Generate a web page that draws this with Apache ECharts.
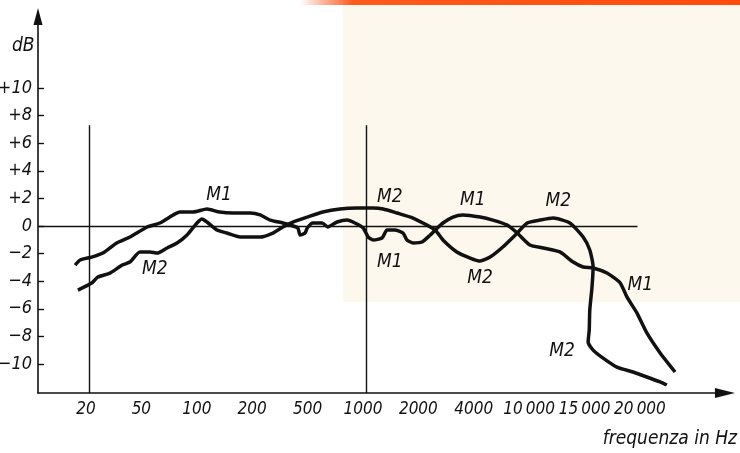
<!DOCTYPE html>
<html>
<head>
<meta charset="utf-8">
<script src="https://cdn.jsdelivr.net/npm/echarts@6/dist/echarts.min.js"></script>
<style>
html,body{margin:0;padding:0;background:#fff;}
#chart{width:740px;height:453px;}
</style>
</head>
<body>
<div id="chart"></div>
<script>
// Frequency tick labels (evenly spaced positions 0..10 on the chart)
const xTickLabels = ['20','50','100','200','500','1000','2000','4000','10\u2009000','15\u2009000','20\u2009000'];
const xTickPos = [0,1,2,3,4,5,6,7,8,9,10];
const yTickValues = [-10,-8,-6,-4,-2,0,2,4,6,8,10];
const yTickLabels = ['\u221210','\u22128','\u22126','\u22124','\u22122','0','+2','+4','+6','+8','+10'];

// Curve M1: [axis position, dB]
const m1 = [
 [-0.25,-2.83],[-0.16,-2.46],[0.05,-2.25],[0.25,-1.96],[0.50,-1.23],[0.74,-0.80],[1.05,-0.07],
 [1.28,0.22],[1.52,0.80],[1.64,1.01],[1.88,1.01],[2.13,1.23],[2.36,1.01],[2.60,0.94],[2.91,0.94],
 [3.09,0.80],[3.27,0.43],[3.50,0.22],[3.63,0.07],[3.77,-0.14],[3.81,-0.65],[3.90,-0.51],[3.94,-0.14],
 [4.04,0.22],[4.21,0.22],[4.31,-0.07],[4.48,0.29],[4.66,0.43],[4.80,0.22],[4.95,-0.14],[5.04,-0.80],
 [5.13,-1.01],[5.29,-0.87],[5.38,-0.29],[5.52,-0.29],[5.67,-0.51],[5.74,-1.01],[5.85,-1.23],[6.01,-1.16],
 [6.16,-0.65],[6.25,-0.29],[6.39,0.22],[6.57,0.65],[6.75,0.80],[7.06,0.65],[7.29,0.43],[7.55,0.07],
 [7.73,-0.51],[7.96,-1.38],[8.20,-1.59],[8.50,-1.88],[8.74,-2.61],[8.92,-2.97],[9.10,-3.04],[9.35,-3.41],
 [9.59,-4.13],[9.71,-5.14],[9.89,-6.30],[10.07,-7.75],[10.31,-9.20],[10.58,-10.58]
];
// Curve M2: [axis position, dB]
const m2 = [
 [-0.20,-4.64],[0.05,-4.13],[0.16,-3.70],[0.38,-3.41],[0.60,-2.83],[0.74,-2.61],[0.92,-1.88],[1.10,-1.88],
 [1.23,-1.96],[1.41,-1.59],[1.59,-1.23],[1.77,-0.65],[1.95,0.22],[2.04,0.51],[2.13,0.29],[2.31,-0.29],
 [2.49,-0.51],[2.73,-0.80],[2.91,-0.80],[3.09,-0.80],[3.32,-0.51],[3.50,-0.07],[3.68,0.29],[3.94,0.65],
 [4.22,1.01],[4.53,1.23],[4.84,1.30],[5.13,1.30],[5.31,1.23],[5.56,0.94],[5.85,0.58],[6.10,0.07],
 [6.25,-0.29],[6.39,-1.01],[6.64,-1.88],[6.88,-2.32],[7.06,-2.54],[7.24,-2.25],[7.47,-1.52],[7.73,-0.51],
 [7.91,0.22],[8.14,0.43],[8.38,0.58],[8.68,0.22],[8.92,-0.80],[9.04,-1.74],[9.10,-2.97],[9.08,-4.42],
 [9.04,-6.09],[9.03,-7.54],[9.01,-8.41],[9.10,-8.99],[9.28,-9.57],[9.53,-10.22],[9.82,-10.58],
 [10.07,-10.94],[10.31,-11.30],[10.43,-11.52]
];
// Curve name annotations: [axis position, dB, text]
const notes = [
 [2.35,2.25,'M1'],[1.19,-3.12,'M2'],[5.43,2.10,'M2'],[5.43,-2.61,'M1'],[6.93,1.88,'M1'],
 [7.06,-3.77,'M2'],[8.47,1.81,'M2'],[9.95,-4.28,'M1'],[8.54,-9.06,'M2']
];
// Guide lines: verticals at 20 Hz and 1000 Hz, 0 dB reference line end
const guidePos = [0,5];
const guideTop = 7.3;
const zeroEnd = 9.9;

const X_MIN = -0.92, X_MAX = 11.48, Y_MIN = -12.1, Y_MAX = 15.18;
const PX_X = 55.4, PX_Y = 13.8;
const FONT = '"DejaVu Sans Condensed","DejaVu Sans",sans-serif';

const chart = echarts.init(document.getElementById('chart'), null, {renderer:'canvas'});
const guideLines = guidePos.map(p => [{coord:[p,Y_MIN]},{coord:[p,guideTop]}]);
guideLines.push([{coord:[X_MIN,0]},{coord:[zeroEnd,0]}]);

chart.setOption({
  animation:false,
  backgroundColor:'#ffffff',
  graphic:[
    {type:'rect', z:-10, silent:true, shape:{x:343,y:0,width:397,height:302}, style:{fill:'#fcf8ee'}},
    {type:'rect', z:-9, silent:true, shape:{x:300,y:0,width:440,height:5},
     style:{fill:new echarts.graphic.LinearGradient(0,0,1,0,[
       {offset:0,color:'rgba(255,80,20,0)'},{offset:0.12,color:'#ff5a1e'},{offset:1,color:'#ff4a0c'}])}}
  ],
  title:[
    {text:'dB', left:7, top:32, textStyle:{fontFamily:FONT, fontStyle:'italic', fontWeight:'normal', fontSize:19, color:'#111'}},
    {text:'frequenza in Hz', right:-2, top:425, textStyle:{fontFamily:FONT, fontStyle:'italic', fontWeight:'normal', fontSize:19, color:'#111'}}
  ],
  grid:{left:38, right:740-(38+(X_MAX-X_MIN)*PX_X), top:226-Y_MAX*PX_Y, bottom:453-393, containLabel:false, outerBoundsMode:'none'},
  xAxis:{
    type:'value', min:X_MIN, max:X_MAX,
    axisLine:{onZero:false, lineStyle:{color:'#111', width:1.6}, symbol:['none','triangle'], symbolSize:[10,20]},
    axisTick:{show:false},
    splitLine:{show:false},
    axisLabel:{customValues:xTickPos, margin:8, padding:[0,6,0,0], hideOverlap:false, color:'#111', fontFamily:FONT, fontStyle:'italic', fontSize:17,
      formatter:(v)=>xTickLabels[Math.round(v)]}
  },
  yAxis:{
    type:'value', min:Y_MIN, max:Y_MAX,
    axisLine:{onZero:false, lineStyle:{color:'#111', width:1.6}, symbol:['none','triangle'], symbolSize:[9,17]},
    axisTick:{show:true, inside:true, length:6, customValues:yTickValues, lineStyle:{color:'#111', width:1.4}},
    splitLine:{show:false},
    axisLabel:{customValues:yTickValues, margin:6, hideOverlap:false, color:'#111', fontFamily:FONT, fontStyle:'italic', fontSize:18,
      formatter:(v)=>yTickLabels[yTickValues.indexOf(Math.round(v))]}
  },
  series:[
    {type:'line', name:'M1', data:m1, showSymbol:false, smooth:0.2, lineStyle:{color:'#111', width:3.5},
     markLine:{silent:true, symbol:['none','none'], label:{show:false}, lineStyle:{color:'#111', width:1.4, type:'solid'}, data:guideLines}},
    {type:'line', name:'M2', data:m2, showSymbol:false, smooth:0.2, lineStyle:{color:'#111', width:3.5}},
    {type:'scatter', data:notes.map(n=>({value:[n[0],n[1]], name:n[2]})), symbolSize:1,
     itemStyle:{opacity:0},
     label:{show:true, position:'inside', formatter:(p)=>p.name, color:'#111', opacity:1, fontFamily:FONT, fontStyle:'italic', fontSize:19}}
  ]
});
</script>
</body>
</html>
